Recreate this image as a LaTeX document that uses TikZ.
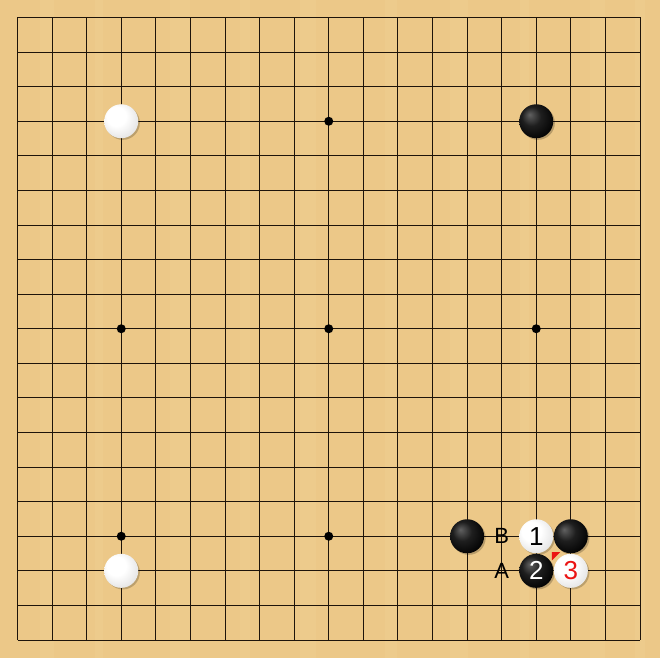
\documentclass[tikz,border=0pt]{standalone}
\usepackage{fontspec}
\setmainfont{Liberation Sans}
\definecolor{wood}{RGB}{236,200,136}
\definecolor{woodlight}{RGB}{243,212,152}
\definecolor{gridc}{RGB}{30,20,10}
\definecolor{markred}{RGB}{235,20,20}
\pgfdeclareradialshading{wstone}{\pgfpoint{-10bp}{10bp}}{color(0bp)=(white); color(14bp)=(white); color(30bp)=(black!10); color(42bp)=(black!25); color(50bp)=(black!38)}
\pgfdeclareradialshading{bstone}{\pgfpoint{-10bp}{10bp}}{color(0bp)=(black!62); color(14bp)=(black!88); color(32bp)=(black); color(50bp)=(black)}
\tikzset{
  stonebase/.style={circle, minimum size=34pt, inner sep=0pt, font=\fontsize{26}{26}\selectfont},
  blackstone/.style={stonebase, shading=bstone, text=white,
    preaction={fill=black, fill opacity=0.22, transform canvas={shift={(1.6pt,-1.6pt)}}}},
  whitestone/.style={stonebase, shading=wstone, text=black,
    preaction={fill=black, fill opacity=0.2, transform canvas={shift={(1.6pt,-1.6pt)}}}},
  star/.style={circle, fill=black, minimum size=9pt, inner sep=0pt},
  lbl/.style={font=\fontsize{22}{22}\selectfont, text=black, inner sep=0pt},
  gridline/.style={draw=gridc, line width=0.9pt}
}
\begin{document}
\begin{tikzpicture}[x=1pt,y=1pt]
\useasboundingbox (0,0) rectangle (660,-658);
\fill[wood] (0,0) rectangle (660,-658);
% subtle wood grain
\foreach \gx/\gw in {40/14,95/8,170/20,240/10,300/16,385/12,450/18,520/9,590/15,635/10}
  \fill[woodlight, opacity=0.25] (\gx,0) rectangle (\gx+\gw,-658);
\begin{scope}[shift={(17.5,-17.5)}, x=34.583pt, y=-34.583pt]
  \foreach \i in {0,...,18} {
    \draw[gridline] (\i,0) -- (\i,18);
    \draw[gridline] (0,\i) -- (18,\i);
  }
  \foreach \a in {3,9,15} \foreach \b in {3,9,15}
    \node[star] (s\a-\b) at (\a,\b) {};
  % stones
  \node[whitestone] (w1) at (3,3) {};
  \node[blackstone] (b1) at (15,3) {};
  \node[whitestone] (w2) at (3,16) {};
  \node[blackstone] (b2) at (13,15) {};
  \node[blackstone] (b3) at (16,15) {};
  \node[whitestone] (m1) at (15,15) {1};
  \node[blackstone] (m2) at (15,16) {2};
  \fill[markred] (15.45,15.46) -- ++(0.24,0) -- ++(-0.24,0.24) -- cycle;
  \node[whitestone, text=markred] (m3) at (16,16) {3};
  \node[lbl] (lA) at (14,16) {A};
  \node[lbl] (lB) at (14,15) {B};
\end{scope}
\end{tikzpicture}
\end{document}
